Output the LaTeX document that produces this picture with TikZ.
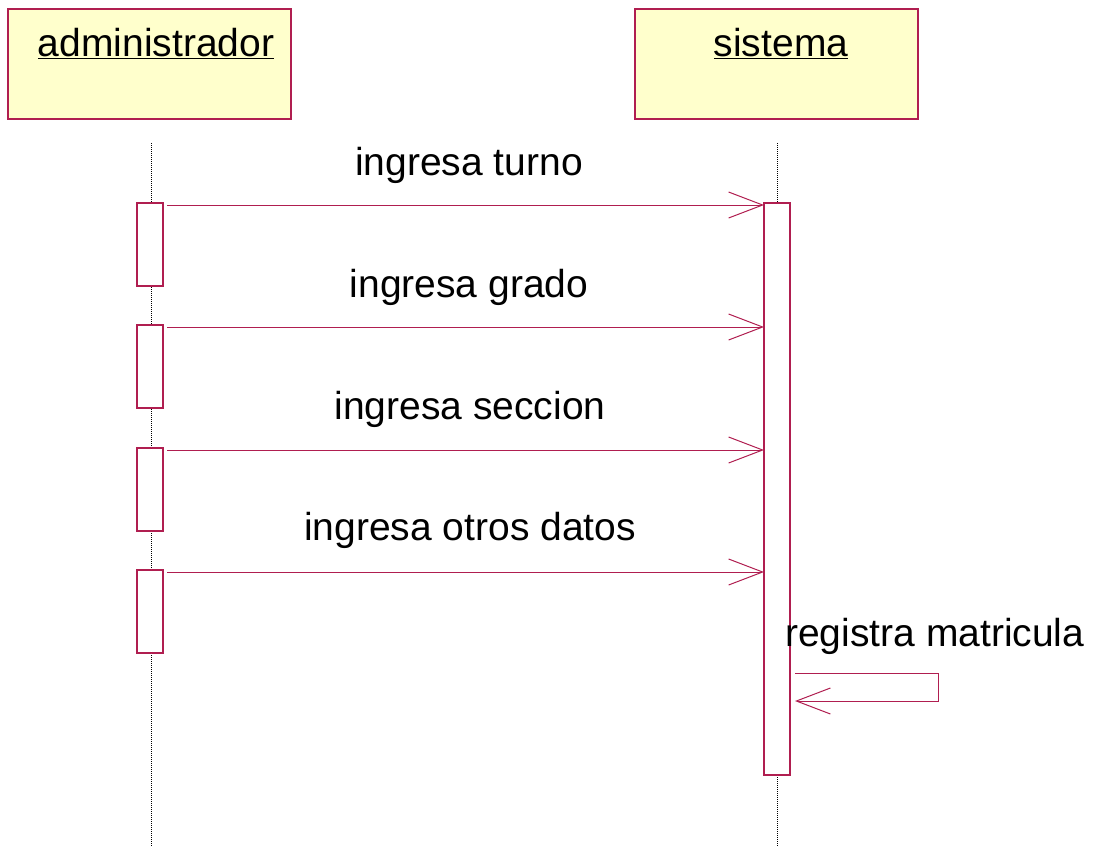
\documentclass[tikz,border=0pt]{standalone}
\usepackage{fontspec}
\setmainfont{Liberation Sans}
\usetikzlibrary{arrows.meta}
\definecolor{umlred}{RGB}{176,30,80}
\definecolor{umlfill}{RGB}{255,255,204}
\begin{document}
\begin{tikzpicture}[x=1pt,y=-1pt,
  objbox/.style={draw=umlred,fill=umlfill,line width=1.2pt},
  actbox/.style={draw=umlred,fill=white,line width=1.2pt},
  lifeline/.style={draw=black,line width=1pt,dash pattern=on 1pt off 1pt},
  msg/.style={draw=umlred,line width=1pt,-{Straight Barb[length=34pt,width=26pt,line width=1pt]}},
  lbl/.style={font=\fontsize{39}{41}\selectfont,anchor=base,inner sep=0pt}]
\useasboundingbox (0,0) rectangle (1098,847);
% objects
\draw[objbox] (8,9) rectangle (291,119);
\draw[objbox] (635,9) rectangle (918,119);
\node[lbl] (admin) at (156,56) {\underline{administrador}};
\node[lbl] (sist) at (781,56) {\underline{sistema}};
% lifelines
\draw[lifeline] (151,143) -- (151,847);
\draw[lifeline] (777,143) -- (777,847);
% activations
\draw[actbox] (764,203) rectangle (790,775);
\foreach \y/\n in {203/a1,325/a2,448/a3,570/a4}{
  \draw[actbox] (137,\y) rectangle (163,\y+83);
  \coordinate (\n) at (167,\y+2);
}
\coordinate (s1) at (764,205);
\coordinate (s2) at (764,327);
\coordinate (s3) at (764,450);
\coordinate (s4) at (764,572);
\draw[msg] (a1) -- (s1);
\draw[msg] (a2) -- (s2);
\draw[msg] (a3) -- (s3);
\draw[msg] (a4) -- (s4);
\node[lbl] (l1) at (469,175) {ingresa turno};
\node[lbl] (l2) at (469,297) {ingresa grado};
\node[lbl] (l3) at (470,419) {ingresa seccion};
\node[lbl] (l4) at (470,540) {ingresa otros datos};
% self message
\coordinate (r0) at (795,673);
\coordinate (r1) at (795,701);
\draw[msg] (r0) -- (938,673) -- (938,701) -- (r1);
\node[lbl,anchor=base west] (l5) at (785,646) {registra matricula};
\end{tikzpicture}
\end{document}
